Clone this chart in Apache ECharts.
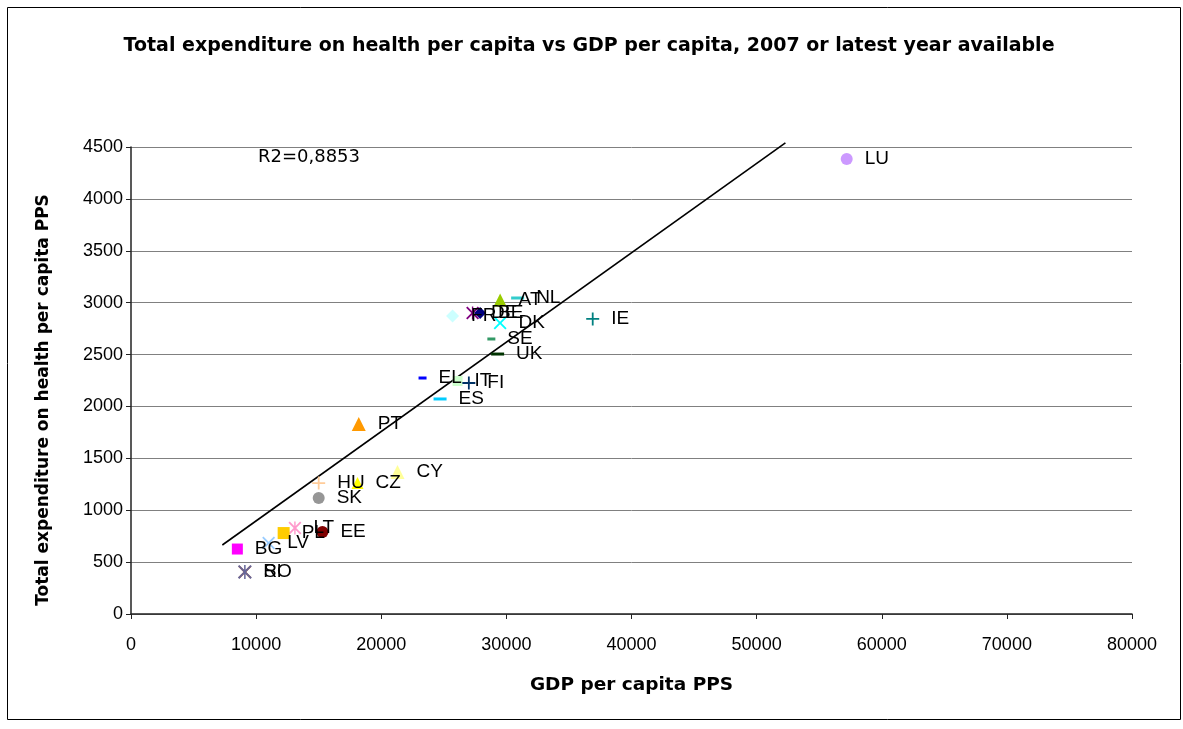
<!DOCTYPE html>
<html>
<head>
<meta charset="utf-8">
<script src="https://cdn.jsdelivr.net/npm/echarts@6/dist/echarts.min.js"></script>
<style>html,body{margin:0;padding:0;background:#fff}#c{width:1183px;height:729px}</style>
</head>
<body>
<div id="c"></div>
<script>
// ---- data ----
var countries = ['BE','BG','CZ','DK','DE','EE','IE','EL','ES','FR','IT','CY','LV','LT','LU','HU','NL','AT','PL','PT','RO','SI','SK','FI','SE','UK'];
var gdpPerCapita = [27900,8500,18100,29500,27300,15300,36900,23300,24700,25700,26100,21300,11000,13100,57200,15000,30900,29500,12200,18200,9100,9100,15000,27000,28800,29300];
var healthPerCapita = [2900,626,1262,2804,2900,790,2843,2274,2072,2871,2245,1368,684,829,4384,1262,3045,3026,780,1831,405,405,1118,2226,2650,2505];
var trendX = [7300, 52300];
var trendY = [665, 4540];
var xTicks = [0,10000,20000,30000,40000,50000,60000,70000,80000];
var yTicks = [0,500,1000,1500,2000,2500,3000,3500,4000,4500];
var r2Text = 'R2=0,8853';
var yTitle = 'Total expenditure on health per capita PPS';

// ---- styles ----
var P_PLUS = 'path://M0,5.6H13V7.4H0ZM5.6,0H7.4V13H5.6Z';
var P_X = 'path://M0,1.3L1.3,0L6.5,5.2L11.7,0L13,1.3L7.8,6.5L13,11.7L11.7,13L6.5,7.8L1.3,13L0,11.7L5.2,6.5Z';
var P_AST = 'path://M0,1.3L1.3,0L6.5,5.2L11.7,0L13,1.3L7.8,6.5L13,11.7L11.7,13L6.5,7.8L1.3,13L0,11.7L5.2,6.5ZM5.8,0H7.2V13H5.8Z';
var styleMap = {
  BE:['#000080','diamond',12], BG:['#FF00FF','rect',11], CZ:['#FFFF00','triangle',12],
  DK:['#00FFFF',P_X,13], DE:['#800080',P_AST,13], EE:['#800000','circle',12],
  IE:['#008080',P_PLUS,13], EL:['#0000FF','rect',[8,3]], ES:['#00CCFF','rect',[13,3]],
  FR:['#CCFFFF','diamond',13], IT:['#CCFFCC','rect',10], CY:['#FFFF99','triangle',14],
  LV:['#99CCFF',P_X,13], LT:['#FF99CC',P_AST,13], LU:['#CC99FF','circle',12],
  HU:['#FFCC99',P_PLUS,13], NL:['#33CCCC','rect',[13,3]], AT:['#99CC00','triangle',13],
  PL:['#FFCC00','rect',12], PT:['#FF9900','triangle',14], RO:['#FF6600',P_X,13],
  SI:['#666699',P_AST,14], SK:['#969696','circle',12], FI:['#003366',P_PLUS,13],
  SE:['#339966','rect',[8,3]], UK:['#003300','rect',[13,3]]
};
var FONT = 'Arial, "Liberation Sans", sans-serif';
var WIDE = '"DejaVu Sans", Arial, sans-serif';

var series = countries.map(function(c, i){
  var s = styleMap[c];
  return {
    name: c, type: 'scatter',
    data: [[gdpPerCapita[i], healthPerCapita[i]]],
    symbol: s[1], symbolSize: s[2],
    itemStyle: {color: s[0], opacity: 1},
    label: {show: true, position: 'right', distance: 12, formatter: c,
            color: '#000', fontSize: 19, fontFamily: FONT},
    emphasis: {disabled: true}, animation: false
  };
});
series.push({
  type: 'line', data: [[trendX[0], trendY[0]], [trendX[1], trendY[1]]],
  symbol: 'none', clip: false, lineStyle: {color: '#000', width: 1.6},
  silent: true, animation: false, z: 1
});

var chart = echarts.init(document.getElementById('c'), null, {renderer: 'canvas'});
chart.setOption({
  animation: false,
  backgroundColor: '#fff',
  grid: {left: 131, right: 51, top: 147, bottom: 115, containLabel: false},
  xAxis: {
    type: 'value', min: xTicks[0], max: xTicks[xTicks.length-1], interval: 10000,
    name: 'GDP per capita PPS', nameLocation: 'middle', nameGap: 62,
    nameTextStyle: {fontSize: 18.5, fontWeight: 'bold', fontFamily: WIDE, color: '#000'},
    axisLine: {lineStyle: {color: '#222', width: 1.5}},
    axisTick: {show: true, length: 5, inside: false, lineStyle: {color: '#222'}},
    axisLabel: {fontSize: 18, fontFamily: FONT, color: '#000', margin: 22,
                formatter: function(v){ return String(v); }},
    splitLine: {show: false}
  },
  yAxis: {
    type: 'value', min: yTicks[0], max: yTicks[yTicks.length-1], interval: 500,
    axisLine: {show: true, lineStyle: {color: '#222', width: 1.5}},
    axisTick: {show: true, length: 5, inside: false, lineStyle: {color: '#222'}},
    axisLabel: {fontSize: 18, fontFamily: FONT, color: '#000', margin: 8,
                formatter: function(v){ return String(v); }},
    splitLine: {show: true, lineStyle: {color: '#808080', width: 1}}
  },
  title: {
    text: 'Total expenditure on health per capita vs GDP per capita, 2007 or latest year available',
    left: 584, top: 32, textAlign: 'center',
    textStyle: {fontSize: 19, fontWeight: 'bold', fontFamily: WIDE, color: '#000'}
  },
  graphic: [
    {type: 'rect', left: 5, top: 5, shape: {width: 1173, height: 712},
     style: {fill: 'none', stroke: '#000', lineWidth: 1}, silent: true, z: -1},
    {type: 'text', left: 258, top: 148, style: {text: r2Text, fontSize: 18, fontFamily: WIDE, fill: '#000'}},
    {type: 'text', x: 44, y: 400, rotation: Math.PI / 2,
     style: {text: yTitle, fontSize: 17, fontWeight: 'bold', fontFamily: WIDE, fill: '#000',
             textAlign: 'center', textVerticalAlign: 'middle'}}
  ],
  series: series
});
</script>
</body>
</html>
